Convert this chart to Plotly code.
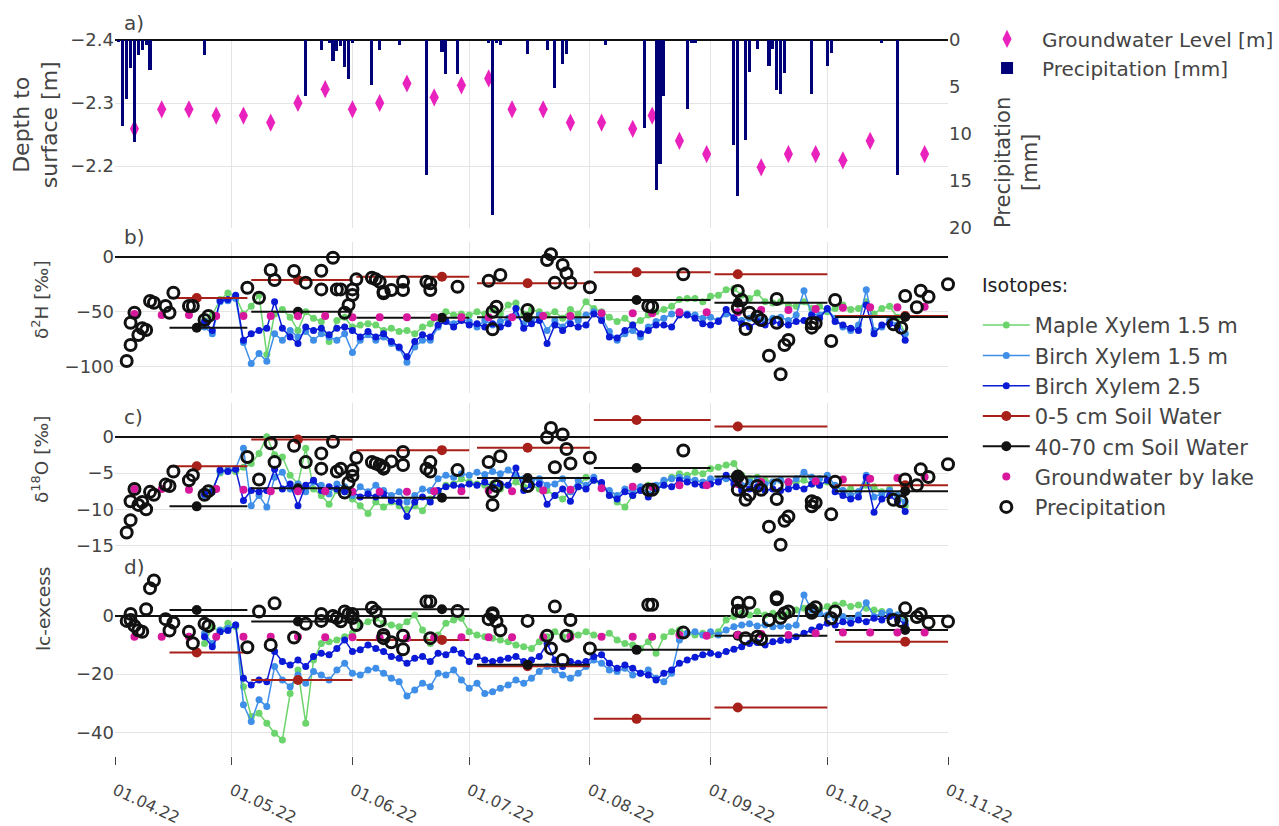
import pandas as pd
import plotly.graph_objects as go

# ---------------- data ----------------
# (a) groundwater level below surface [m] and daily precipitation [mm]
gw_level_dates = ["2022-04-06", "2022-04-13", "2022-04-20", "2022-04-27", "2022-05-04", "2022-05-11",
                  "2022-05-18", "2022-05-25", "2022-06-01", "2022-06-08", "2022-06-15", "2022-06-22",
                  "2022-06-29", "2022-07-06", "2022-07-12", "2022-07-20", "2022-07-27", "2022-08-04",
                  "2022-08-12", "2022-08-17", "2022-08-24", "2022-08-31", "2022-09-14", "2022-09-21",
                  "2022-09-28", "2022-10-05", "2022-10-12", "2022-10-26"]
gw_level = [-2.259, -2.290, -2.290, -2.280, -2.280, -2.269, -2.300, -2.322, -2.290, -2.300, -2.331, -2.309,
            -2.328, -2.339, -2.290, -2.290, -2.269, -2.269, -2.259, -2.280, -2.240, -2.219, -2.198, -2.219,
            -2.219, -2.209, -2.240, -2.219]

rain_dates = ["2022-04-02", "2022-04-03", "2022-04-04", "2022-04-05", "2022-04-06", "2022-04-07", "2022-04-08",
              "2022-04-09", "2022-04-10", "2022-04-24", "2022-05-20", "2022-05-24", "2022-05-26", "2022-05-27",
              "2022-05-28", "2022-05-29", "2022-05-30", "2022-05-31", "2022-06-01", "2022-06-06", "2022-06-08",
              "2022-06-13", "2022-06-20", "2022-06-24", "2022-06-25", "2022-06-28", "2022-07-06", "2022-07-07",
              "2022-07-08", "2022-07-09", "2022-07-16", "2022-07-21", "2022-07-23", "2022-07-25", "2022-07-26",
              "2022-08-05", "2022-08-15", "2022-08-18", "2022-08-19", "2022-08-20", "2022-08-26", "2022-08-27",
              "2022-08-28", "2022-09-07", "2022-09-08", "2022-09-10", "2022-09-11", "2022-09-13", "2022-09-16",
              "2022-09-17", "2022-09-18", "2022-09-19", "2022-09-20", "2022-09-27", "2022-10-01", "2022-10-02",
              "2022-10-15", "2022-10-19"]
rain_mm = [0.2, 9.1, 6.3, 3.0, 10.9, 1.6, 1.1, 0.5, 3.2, 1.6, 6.0, 1.1, 0.3, 2.2, 1.2, 0.6, 2.9, 4.2, 0.3,
           4.8, 1.1, 0.5, 14.4, 1.3, 3.6, 3.6, 0.3, 18.6, 0.3, 0.5, 1.5, 1.1, 5.1, 2.5, 1.5, 0.5, 9.4, 16.0,
           13.2, 6.0, 7.3, 0.3, 0.3, 11.2, 16.6, 10.6, 3.4, 1.0, 2.8, 1.0, 5.3, 5.7, 3.5, 5.7, 2.8, 1.4, 0.3,
           14.4]

# xylem water, sampled every second day from 24.04.22
xylem_start = "2022-04-24"
xylem_n = 91

maple_d2h = [-58, -53, -39, -33, -36, -52, -45, -35, -89, -52, -48, -55, -67, -50, -56, -59, -77, -58, -55, -64,
             -62, -61, -62, -67, -65, -68, -67, -70, -64, -61, -56, -50, -53, -52, -53, -50, -52, -48, -52, -44,
             -42, -52, -48, -50, -53, -50, -56, -48, -52, -41, -47, -50, -55, -59, -56, -62, -58, -53, -50, -48,
             -45, -39, -38, -38, -41, -36, -35, -30, -29, -35, -38, -33, -41, -42, -41, -44, -45, -41, -47, -45,
             -50, -47, -44, -48, -47, -41, -52, -47, -45, -55, -70]
birch15_d2h = [-64, -70, -41, -40, -38, -78, -97, -88, -95, -70, -76, -67, -73, -68, -76, -70, -73, -76, -70, -87,
               -76, -71, -76, -73, -79, -83, -96, -82, -76, -76, -64, -58, -61, -56, -59, -64, -58, -62, -59, -56,
               -53, -61, -58, -53, -67, -58, -64, -55, -58, -53, -50, -55, -68, -76, -70, -67, -73, -64, -59, -56,
               -52, -50, -52, -53, -56, -55, -58, -52, -55, -58, -56, -55, -58, -56, -55, -58, -53, -31, -52, -53,
               -48, -56, -64, -67, -62, -30, -67, -64, -58, -62, -70]
birch25_d2h = [-59, -67, -40, -39, -35, -76, -70, -67, -65, -41, -65, -73, -79, -64, -67, -65, -71, -65, -64, -67,
               -73, -68, -73, -70, -77, -82, -91, -77, -71, -73, -62, -59, -64, -58, -62, -61, -64, -61, -64, -61,
               -47, -65, -61, -58, -79, -62, -67, -61, -64, -62, -52, -58, -73, -74, -67, -62, -70, -67, -62, -62,
               -64, -53, -53, -56, -61, -62, -59, -48, -56, -61, -64, -59, -62, -59, -61, -62, -59, -58, -53, -56,
               -47, -59, -62, -65, -67, -44, -70, -62, -61, -64, -76]

maple_d18o = [-7.6, -7.2, -5.0, -4.6, -4.8, -4.2, -3.7, -2.3, 0.0, -2.5, -2.8, -5.3, -6.5, -1.6, -7.2, -8.1, -9.3,
              -7.4, -7.6, -8.6, -9.5, -10.6, -9.0, -9.7, -9.0, -9.5, -10.0, -9.5, -10.2, -8.6, -7.6, -6.7, -6.5,
              -5.8, -6.25, -6.5, -6.7, -6.5, -7.2, -6.7, -6.25, -6.9, -6.7, -7.2, -7.4, -8.1, -8.6, -7.6, -6.9,
              -5.6, -6.0, -6.7, -7.6, -9.0, -9.7, -8.1, -7.2, -6.7, -7.4, -6.5, -5.6, -5.1, -5.3, -4.9, -5.1,
              -4.4, -4.2, -3.9, -3.7, -5.3, -5.8, -5.6, -6.0, -6.25, -6.0, -6.5, -6.25, -6.0, -6.5, -6.7, -6.25,
              -6.9, -7.4, -7.2, -7.6, -6.7, -6.9, -7.6, -7.2, -8.1, -9.5]
birch15_d18o = [-8.1, -7.4, -4.8, -4.6, -4.4, -1.6, -9.5, -8.1, -9.7, -5.6, -4.9, -7.2, -6.5, -7.6, -6.25, -6.7,
                -7.9, -6.5, -6.9, -8.1, -6.9, -7.6, -6.7, -7.4, -8.1, -7.6, -9.0, -8.1, -7.2, -7.4, -5.8, -5.3,
                -5.6, -5.1, -5.3, -4.9, -5.2, -4.8, -5.1, -4.6, -5.3, -5.8, -6.0, -5.8, -6.7, -6.5, -5.8, -7.6,
                -6.0, -6.7, -5.6, -6.7, -7.4, -8.1, -7.2, -7.6, -6.9, -7.9, -6.7, -6.0, -5.8, -5.6, -5.8, -6.0,
                -6.25, -5.8, -6.0, -5.8, -6.0, -6.7, -6.25, -6.0, -6.5, -6.25, -6.0, -6.5, -5.8, -4.9, -5.6, -5.8,
                -5.3, -6.7, -7.4, -8.1, -7.6, -5.3, -8.3, -7.9, -7.4, -8.1, -9.0]
birch25_d18o = [-7.9, -7.6, -4.6, -4.8, -4.5, -8.8, -7.4, -7.6, -7.4, -4.5, -7.2, -6.5, -9.5, -6.7, -6.0, -7.4,
                -6.9, -7.2, -7.6, -7.6, -8.3, -7.9, -8.3, -7.9, -8.8, -9.0, -11.0, -9.0, -8.3, -9.0, -7.4, -6.9,
                -6.7, -6.9, -6.5, -6.7, -6.25, -6.9, -6.5, -6.7, -4.3, -7.4, -6.7, -6.5, -9.3, -8.1, -7.2, -8.9,
                -6.9, -7.2, -6.0, -6.3, -8.1, -8.6, -7.6, -8.1, -7.4, -8.3, -7.2, -6.7, -6.9, -6.0, -6.25, -6.5,
                -6.7, -6.5, -6.25, -5.3, -6.5, -7.4, -7.2, -6.9, -7.4, -7.2, -7.4, -7.2, -6.9, -7.2, -6.5, -6.7,
                -6.0, -7.6, -8.1, -8.6, -8.3, -5.6, -10.4, -8.6, -8.1, -9.0, -10.3]

maple_lc = [-9.5, -3.8, -5.5, -2.6, -3.8, -24.3, -34.5, -33.4, -36.8, -40.2, -42.5, -26.6, -18.6, -36.8, -15.2,
            -9.5, -8.9, -8.3, -7.2, -6.0, -3.2, -2.1, -0.9, -2.6, -3.2, -3.8, -2.1, 0.2, -4.9, -9.5, -6.6, -2.6,
            -1.5, -0.9, -5.5, -6.6, -7.2, -7.7, -8.3, -8.9, -10.0, -10.6, -11.2, -8.9, -7.2, -5.5, -7.2, -6.0,
            -6.6, -5.5, -6.6, -7.2, -6.0, -8.3, -9.5, -10.0, -11.2, -8.9, -12.9, -7.2, -5.5, -4.9, -6.0, -6.6,
            -6.0, -6.6, -5.5, -1.5, -0.3, 0.8, 0.2, 1.4, 0.2, 0.8, -0.3, 0.8, 1.9, 2.5, 3.1, 1.9, 3.1, 3.6, 4.2,
            3.1, 3.6, 2.5, 1.9, 1.4, 0.8, 0.2, -1.5]
birch15_lc = [-6.0, -9.5, -4.9, -4.3, -3.2, -30.5, -36.2, -28.8, -31.1, -17.4, -22.0, -24.3, -20.3, -23.1, -19.1,
              -20.3, -22.0, -18.6, -16.3, -19.7, -20.3, -18.6, -18.0, -19.7, -21.4, -22.6, -27.5, -25.4, -23.1,
              -24.3, -19.7, -20.3, -18.6, -22.0, -24.8, -23.1, -26.6, -26.0, -24.8, -23.7, -22.0, -23.1, -21.4,
              -19.1, -17.4, -18.6, -20.3, -21.4, -19.7, -17.4, -15.2, -16.3, -18.6, -19.1, -18.0, -20.3, -19.7,
              -18.6, -21.4, -22.6, -19.7, -8.3, -6.0, -5.5, -6.6, -5.5, -6.6, -4.9, -3.8, -3.2, -2.8, -3.5, -3.2,
              -3.8, -3.5, -3.8, -3.2, 7.1, 1.9, 0.8, 0.2, -0.9, -0.3, -1.5, 0.2, 4.4, -0.3, 0.8, 1.4, 0.2, -2.1]
birch25_lc = [-7.2, -10.6, -5.5, -5.1, -3.2, -21.4, -23.7, -22.0, -22.6, -12.3, -15.7, -16.9, -15.2, -17.4, -14.0,
              -12.9, -13.4, -11.2, -8.3, -12.3, -11.7, -10.0, -11.2, -12.3, -14.0, -14.6, -16.3, -14.6, -14.0,
              -15.7, -12.9, -13.4, -11.7, -12.9, -15.7, -14.0, -15.2, -15.7, -15.2, -14.6, -14.0, -15.7, -15.2,
              -14.0, -9.5, -15.2, -17.4, -15.7, -16.3, -15.7, -14.0, -13.4, -16.3, -18.0, -16.9, -18.0, -19.7,
              -20.3, -22.0, -19.7, -18.6, -16.3, -15.2, -14.2, -13.4, -12.9, -13.4, -12.3, -11.5, -10.6, -9.5,
              -9.2, -10.0, -8.9, -8.5, -8.3, -7.2, -6.0, -4.9, -3.8, -2.6, -3.2, -2.1, -2.6, -1.5, -2.1, -0.9,
              -1.5, -0.3, -0.9, -3.2]

# soil water: one bulk sample per period (start, sampling day, end)
soil_start = ["2022-04-15", "2022-05-06", "2022-06-02", "2022-07-03", "2022-08-02", "2022-09-02", "2022-10-03"]
soil_mid = ["2022-04-22", "2022-05-18", "2022-06-24", "2022-07-16", "2022-08-13", "2022-09-08", "2022-10-21"]
soil_end = ["2022-05-05", "2022-06-01", "2022-07-01", "2022-08-01", "2022-09-01", "2022-10-01", "2022-11-01"]
soil05_d2h = [-37.5, -21.2, -18.2, -24.2, -14.2, -16.0, -54.0]
soil4070_d2h = [-64.5, -50.0, -55.5, -55.0, -39.4, -41.8, -54.8]
soil05_d18o = [-4.07, -0.37, -1.85, -1.52, 2.3, 1.4, -6.7]
soil4070_d18o = [-9.6, -7.1, -8.4, -5.7, -4.3, -5.5, -7.5]
soil05_lc = [-12.6, -22.0, -8.3, -17.3, -35.3, -31.4, -8.9]
soil4070_lc = [1.9, -2.0, 2.2, -16.8, -11.7, -6.9, -4.9]

# groundwater sampled by the lake
lake_dates = ["2022-04-06", "2022-04-13", "2022-04-20", "2022-04-27", "2022-05-04", "2022-05-11", "2022-05-18",
              "2022-05-25", "2022-06-01", "2022-06-08", "2022-06-15", "2022-06-22", "2022-06-29", "2022-07-06",
              "2022-07-12", "2022-07-20", "2022-07-27", "2022-08-04", "2022-08-12", "2022-08-17", "2022-08-24",
              "2022-08-31", "2022-09-08", "2022-09-14", "2022-09-21", "2022-09-28", "2022-10-05", "2022-10-12",
              "2022-10-19", "2022-10-26"]
lake_d2h = [-52, -53, -53, -54, -54, -54, -54, -54, -55, -55, -55, -55, -55, -55, -55, -54, -54, -51.5, -51.5,
            -51.5, -50.6, -50.6, -50.6, -48.5, -48.5, -47.6, -46.4, -46, -46, -45.5]
lake_d18o = [-7.2, -7.2, -7.3, -7.2, -7.3, -7.5, -7.5, -7.5, -7.6, -7.6, -7.6, -7.5, -7.5, -7.4, -7.5, -7.4,
             -7.3, -7.1, -6.9, -6.9, -6.7, -6.7, -6.5, -6.25, -6.25, -6.15, -5.9, -5.8, -5.7, -5.55]
lake_lc = [-7.2, -7.2, -7.2, -7.2, -7.2, -7.2, -7.2, -7.4, -7.4, -7.6, -7.7, -7.5, -7.4, -7.4, -7.4, -7.4,
           -7.2, -7.2, -7.2, -7.2, -6.6, -6.9, -6.6, -6.3, -6.6, -6.0, -5.8, -5.8, -5.8, -5.8]

# precipitation isotopes (event samples)
prec_dates = ["2022-04-04", "2022-04-05", "2022-04-05", "2022-04-06", "2022-04-07", "2022-04-08", "2022-04-09",
              "2022-04-10", "2022-04-11", "2022-04-14", "2022-04-15", "2022-04-16", "2022-04-20", "2022-04-21",
              "2022-04-24", "2022-04-25", "2022-05-05", "2022-05-08", "2022-05-11", "2022-05-12", "2022-05-17",
              "2022-05-20", "2022-05-24", "2022-05-24", "2022-05-27", "2022-05-28", "2022-05-29", "2022-05-30",
              "2022-05-31", "2022-06-01", "2022-06-01", "2022-06-02", "2022-06-06", "2022-06-07", "2022-06-08",
              "2022-06-09", "2022-06-09", "2022-06-11", "2022-06-14", "2022-06-14", "2022-06-20", "2022-06-21",
              "2022-06-21", "2022-06-28", "2022-07-06", "2022-07-07", "2022-07-07", "2022-07-08", "2022-07-09",
              "2022-07-16", "2022-07-21", "2022-07-22", "2022-07-23", "2022-07-25", "2022-07-26", "2022-07-27",
              "2022-08-01", "2022-08-16", "2022-08-17", "2022-08-25", "2022-09-08", "2022-09-08", "2022-09-09",
              "2022-09-10", "2022-09-11", "2022-09-13", "2022-09-14", "2022-09-16", "2022-09-18", "2022-09-18",
              "2022-09-19", "2022-09-20", "2022-09-21", "2022-09-27", "2022-09-27", "2022-09-28", "2022-10-02",
              "2022-10-03", "2022-10-18", "2022-10-20", "2022-10-21", "2022-10-24", "2022-10-25", "2022-10-27",
              "2022-11-01"]
prec_d2h = [-94.8, -80.3, -60, -50.9, -71.2, -65.1, -66.6, -40.3, -41.8, -44.8, -50.9, -32.7, -44.8, -44.8,
            -57.5, -53.9, -28.2, -37.3, -12.1, -21.2, -13, -23.6, -12.7, -29.7, -0.9, -29.7, -29.7, -50.9, -43.9,
            -29.7, -34.8, -20.6, -19.1, -20.6, -22.7, -33.3, -31.8, -30.3, -22.7, -30.3, -22.7, -24.2, -30.3,
            -27.3, -21.8, -66, -50, -45.5, -16.6, -48.5, -3.0, 2.2, -23.6, -7.5, -15.1, -23.6, -27.8, -44.8,
            -45.5, -16, -46.4, -31.2, -39.4, -65.7, -50.9, -54.5, -57.5, -90, -38.5, -60, -106.9, -80.3, -75.7,
            -60.6, -64.5, -60.6, -76.6, -39.4, -61.5, -64.5, -35.7, -46, -30.9, -36.4, -25.1]
prec_d18o = [-13.2, -11.5, -8.9, -7.2, -9.4, -9.0, -10.0, -7.6, -8.0, -6.6, -6.8, -4.8, -6.0, -5.3, -8.0, -7.5,
             -2.8, -5.9, -0.9, -3.5, -1.25, -3.5, -2.3, -4.4, -0.7, -4.8, -4.4, -7.7, -6.3, -5.4, -4.6, -2.9,
             -3.5, -3.7, -3.9, -4.4, -4.2, -3.4, -2.1, -3.9, -4.4, -4.8, -3.5, -4.6, -3.5, -9.4, -7.6, -6.8,
             -2.7, -6.8, -0.1, 1.2, -4.2, 0.3, -1.7, -3.7, -2.9, -7.3, -7.3, -1.9, -7.3, -5.5, -6.2, -8.7, -8.0,
             -6.8, -7.3, -12.4, -6.7, -8.6, -14.9, -11.6, -11.0, -8.9, -9.6, -9.1, -10.7, -6.2, -8.7, -8.9, -5.9,
             -6.7, -4.5, -5.55, -3.8]
prec_lc = [-1.8, 0.6, -1.5, -3.5, -5.0, -5.5, 2.2, 9.4, 12.0, -1.2, -5.1, -2.4, -5.5, -9.4, -2.8, -3.5, -10.8,
           1.4, -10.0, 4.2, -7.5, -2.8, 0.6, -1.8, -0.1, -0.8, -1.9, 1.4, 0.6, 0.6, -0.8, -3.2, 2.7, 1.4, -1.8,
           -6.6, -7.7, -9.1, -6.9, -11.5, 4.8, 4.8, -7.7, 1.6, -1.2, 0.2, 0.8, -2.0, -5.0, -1.8, -6.9, -11.2,
           3.1, -15.2, -6.9, -1.5, -11.2, 3.7, 3.7, -5.8, 1.7, 4.4, 1.4, -7.7, 4.4, -7.2, -8.0, -1.5, 5.6, 6.3,
           -0.7, 0.8, 1.4, 1.9, 1.0, 2.9, -0.9, 1.4, -1.5, -1.8, 2.5, -0.5, 0.6, -2.4, -2.0]

# ---------------- styling ----------------
FONT = "DejaVu Sans"
GREEN = "#6cd46c"
LBLUE = "#3f8fe8"
DBLUE = "#0a1ad6"
RED = "#a8201a"
BLACK = "#111111"
LAKE = "#d8189c"
GWPINK = "#ea22bd"
NAVY = "#000078"
GRID = "#e4e4e4"
TXT = "#444444"

xylem_dates = pd.date_range(xylem_start, periods=xylem_n, freq="2D")

fig = go.Figure()

# ---- panel a ----
fig.add_trace(go.Scatter(x=gw_level_dates, y=gw_level, mode="markers", name="Groundwater Level [m]",
                         marker=dict(symbol="diamond-tall", size=13, color=GWPINK),
                         xaxis="x", yaxis="y", legend="legend"))
fig.add_trace(go.Bar(x=rain_dates, y=rain_mm, name="Precipitation [mm]", marker_color=NAVY,
                     marker_line_width=0, width=0.8 * 86400000, xaxis="x", yaxis="y5", legend="legend"))


def segments(starts, ends, vals):
    xs, ys = [], []
    for s, e, v in zip(starts, ends, vals):
        xs += [s, e, None]
        ys += [v, v, None]
    return xs, ys


def points(xs_in, vals):
    xs, ys = [], []
    for s, v in zip(xs_in, vals):
        xs += [s, None]
        ys += [v, None]
    return xs, ys


panels = [
    ("x2", "y2", maple_d2h, birch15_d2h, birch25_d2h, soil05_d2h, soil4070_d2h, lake_d2h, prec_d2h),
    ("x3", "y3", maple_d18o, birch15_d18o, birch25_d18o, soil05_d18o, soil4070_d18o, lake_d18o, prec_d18o),
    ("x4", "y4", maple_lc, birch15_lc, birch25_lc, soil05_lc, soil4070_lc, lake_lc, prec_lc),
]

for k, (xa, ya, maple, b15, b25, s05, s4070, lake, prec) in enumerate(panels):
    first = k == 0
    for name, vals, col in (("Maple Xylem 1.5 m", maple, GREEN),
                            ("Birch Xylem 1.5 m", b15, LBLUE),
                            ("Birch Xylem 2.5", b25, DBLUE)):
        fig.add_trace(go.Scatter(x=xylem_dates, y=vals, mode="lines+markers", name=name,
                                 line=dict(color=col, width=1.5), marker=dict(color=col, size=7),
                                 legendgroup=name, showlegend=first, legend="legend2",
                                 xaxis=xa, yaxis=ya))
    for name, vals, col in (("0-5 cm Soil Water", s05, RED), ("40-70 cm Soil Water", s4070, BLACK)):
        sx, sy = segments(soil_start, soil_end, vals)
        fig.add_trace(go.Scatter(x=sx, y=sy, mode="lines", line=dict(color=col, width=2),
                                 legendgroup=name, showlegend=False, hoverinfo="skip",
                                 xaxis=xa, yaxis=ya))
        px, py = points(soil_mid, vals)
        fig.add_trace(go.Scatter(x=px, y=py, mode="lines+markers", name=name,
                                 line=dict(color=col, width=2), marker=dict(color=col, size=10),
                                 legendgroup=name, showlegend=first, legend="legend2",
                                 xaxis=xa, yaxis=ya))
    fig.add_trace(go.Scatter(x=lake_dates, y=lake, mode="markers", name="Groundwater by lake",
                             marker=dict(color=LAKE, size=8), legendgroup="lake", showlegend=first,
                             legend="legend2", xaxis=xa, yaxis=ya))
    fig.add_trace(go.Scatter(x=prec_dates, y=prec, mode="markers", name="Precipitation",
                             marker=dict(symbol="circle-open", size=11, color=BLACK, line=dict(width=3)),
                             legendgroup="prec", showlegend=first, legend="legend2", cliponaxis=False,
                             xaxis=xa, yaxis=ya))

# ---------------- layout ----------------
xcommon = dict(type="date", range=["2022-04-01", "2022-11-01"], dtick="M1", tick0="2022-04-01",
               showgrid=True, gridcolor=GRID, gridwidth=1, zeroline=False, showline=False,
               tickformat="%d.%m.%y", automargin=False)
tickfont = dict(family=FONT, size=18, color=TXT)
ycommon = dict(showgrid=True, gridcolor=GRID, zeroline=True, zerolinecolor=BLACK, zerolinewidth=2,
               showline=False, tickfont=tickfont, ticks="", automargin=False)

fig.update_layout(
    width=1279, height=826, autosize=False,
    margin=dict(l=115, r=331, t=40, b=70, autoexpand=False),
    paper_bgcolor="white", plot_bgcolor="white",
    font=dict(family=FONT, size=18, color=TXT),
    bargap=0,
    xaxis=dict(**xcommon, anchor="y", showticklabels=False),
    xaxis2=dict(**xcommon, anchor="y2", showticklabels=False),
    xaxis3=dict(**xcommon, anchor="y3", showticklabels=False),
    xaxis4=dict(**xcommon, anchor="y4", showticklabels=True, ticks="outside", ticklen=8,
                tickcolor=TXT, tickangle=25, ticklabelstandoff=10,
                tickfont=dict(family=FONT, size=16, color=TXT)),
    yaxis=dict(domain=[0.7374, 1.0], range=[-2.1016, -2.4], dtick=0.1, showgrid=True, gridcolor=GRID,
               zeroline=False, tickfont=tickfont, tickformat=".1f", automargin=False),
    yaxis5=dict(overlaying="y", side="right", anchor="x", range=[20, 0], dtick=5, showgrid=False,
                zeroline=True, zerolinecolor=BLACK, zerolinewidth=2, tickfont=tickfont, automargin=False),
    yaxis2=dict(**ycommon, domain=[0.5070, 0.7179], range=[-123.9, 13.4], dtick=50),
    yaxis3=dict(**ycommon, domain=[0.2737, 0.4930], range=[-17.0, 4.65], dtick=5),
    yaxis4=dict(**ycommon, domain=[0.0, 0.2626], range=[-48.0, 16.3], dtick=20),
    legend=dict(xref="container", yref="container", x=0.760, y=0.9765, xanchor="left", yanchor="top",
                itemwidth=60, font=dict(family=FONT, size=20, color=TXT), bgcolor="rgba(0,0,0,0)",
                tracegroupgap=0),
    legend2=dict(xref="container", yref="container", x=0.7645, y=0.6308, xanchor="left", yanchor="top",
                 itemwidth=47, font=dict(family=FONT, size=21, color=TXT), bgcolor="rgba(0,0,0,0)",
                 tracegroupgap=0),
    showlegend=True,
)

# heading of the isotope legend
fig.add_annotation(text="Isotopes:", xref="paper", yref="paper", x=1.0384, y=0.6578, xanchor="left",
                   yanchor="middle", showarrow=False, font=dict(family=FONT, size=19, color="#222"))

# axis titles, placed beside each panel
titles = [
    ("Depth to<br>surface [m]", -0.0948, 0.881, 22),
    ("Precipitation<br>[mm]", 1.0816, 0.8296, 21),
    ("δ<sup>2</sup>H [‰]", -0.090, 0.6369, 18.5),
    ("δ<sup>18</sup>O [‰]", -0.090, 0.4148, 18.5),
    ("lc-excess", -0.0864, 0.2053, 18.5),
]
for text, xp, yp, fs in titles:
    fig.add_annotation(text=text, xref="paper", yref="paper", x=xp, y=yp, xanchor="center",
                       yanchor="middle", textangle=-90, showarrow=False,
                       font=dict(family=FONT, size=fs, color=TXT))

# panel letters
for label, ypos in (("a)", 1.0237), ("b)", 0.7249), ("c)", 0.4735), ("d)", 0.264)):
    fig.add_annotation(text=label, xref="paper", yref="paper", x=0.008, y=ypos, xanchor="left",
                       yanchor="middle", showarrow=False, font=dict(family=FONT, size=20, color=TXT))

fig.write_html("out.html")
